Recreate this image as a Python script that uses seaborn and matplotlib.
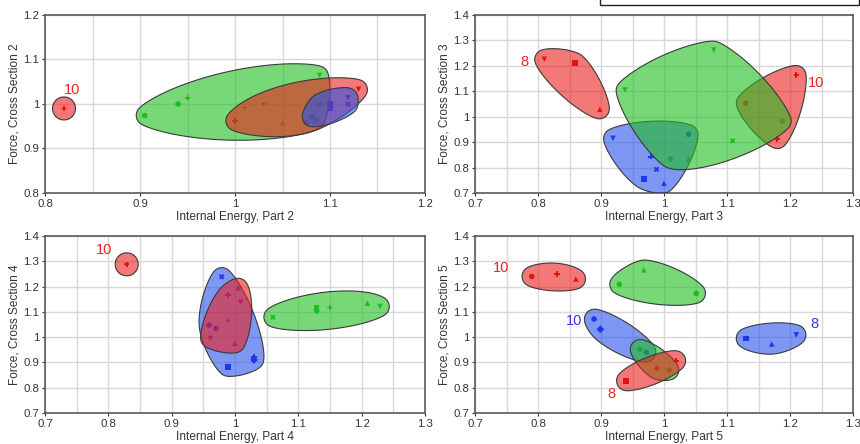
import numpy as np
import pandas as pd
import matplotlib
matplotlib.use("Agg")
import matplotlib.pyplot as plt
from matplotlib.patches import Polygon, Rectangle
import seaborn as sns

# ---------------- data ----------------
# Panel 1: Internal Energy, Part 2 vs Force, Cross Section 2
p1_red10_x = [0.82]
p1_red10_y = [0.99]
p1_red10_m = ["P"]
p1_green_x = [0.905, 0.94, 0.95, 1.01, 1.05, 1.085, 1.089]
p1_green_y = [0.974, 1.0, 1.013, 0.992, 0.958, 0.965, 1.064]
p1_green_m = ["o", "o", "P", "P", "^", "s", "v"]
p1_red_x = [1.0, 1.03, 1.075, 1.13]
p1_red_y = [0.962, 1.0, 0.958, 1.033]
p1_red_m = ["P", "*", "o", "v"]
p1_blue_x = [1.081, 1.089, 1.1, 1.1, 1.119, 1.119]
p1_blue_y = [0.971, 1.0, 1.0, 0.99, 1.014, 1.0]
p1_blue_m = ["o", "X", "s", "s", "v", "X"]

# Panel 2: Internal Energy, Part 3 vs Force, Cross Section 3
p2_blue_x = [0.919, 0.979, 0.988, 0.968, 1.0, 1.039]
p2_blue_y = [0.915, 0.843, 0.793, 0.754, 0.738, 0.931]
p2_blue_m = ["v", "P", "X", "s", "^", "o"]
p2_red8_x = [0.81, 0.859, 0.898]
p2_red8_y = [1.226, 1.212, 1.029]
p2_red8_m = ["v", "s", "^"]
p2_red10_x = [1.21, 1.13, 1.18]
p2_red10_y = [1.164, 1.053, 0.912]
p2_red10_m = ["P", "o", "P"]
p2_green_x = [0.938, 1.079, 1.188, 1.109, 1.01, 1.039]
p2_green_y = [1.105, 1.262, 0.983, 0.905, 0.834, 0.834]
p2_green_m = ["v", "v", "o", "X", "o", "^"]

# Panel 3: Internal Energy, Part 4 vs Force, Cross Section 4
p3_red10_x = [0.829]
p3_red10_y = [1.288]
p3_red10_m = ["P"]
p3_blue_x = [0.979, 0.959, 0.970, 0.989, 1.030, 1.030]
p3_blue_y = [1.239, 1.048, 1.035, 0.883, 0.923, 0.910]
p3_blue_m = ["X", "o", "o", "s", "P", "D"]
p3_red_x = [1.005, 0.989, 1.009, 0.989, 0.961, 1.0]
p3_red_y = [1.195, 1.167, 1.138, 1.065, 0.995, 0.976]
p3_red_m = ["^", "P", "v", "*", "v", "^"]
p3_green_x = [1.060, 1.129, 1.129, 1.150, 1.209, 1.229]
p3_green_y = [1.079, 1.117, 1.104, 1.117, 1.134, 1.121]
p3_green_m = ["X", "s", "o", "P", "^", "v"]

# Panel 4: Internal Energy, Part 5 vs Force, Cross Section 5
p4_red10_x = [0.79, 0.83, 0.86]
p4_red10_y = [1.24, 1.25, 1.23]
p4_red10_m = ["o", "P", "^"]
p4_greentop_x = [0.929, 0.968, 1.051]
p4_greentop_y = [1.209, 1.266, 1.173]
p4_greentop_m = ["o", "^", "o"]
p4_blue10_x = [0.889, 0.899, 0.972]
p4_blue10_y = [1.072, 1.031, 0.94]
p4_blue10_m = ["o", "D", "o"]
p4_blue8_x = [1.130, 1.171, 1.21]
p4_blue8_y = [0.995, 0.973, 1.009]
p4_blue8_m = ["s", "^", "v"]
p4_greenlow_x = [0.962, 0.99, 1.008]
p4_greenlow_y = [0.952, 0.872, 0.87]
p4_greenlow_m = ["o", "v", "o"]
p4_red8_x = [0.940, 0.988, 1.019]
p4_red8_y = [0.827, 0.881, 0.907]
p4_red8_m = ["s", "^", "P"]

x_labels = ["Internal Energy, Part 2", "Internal Energy, Part 3",
            "Internal Energy, Part 4", "Internal Energy, Part 5"]
y_labels = ["Force, Cross Section 2", "Force, Cross Section 3",
            "Force, Cross Section 4", "Force, Cross Section 5"]

# ---------------- style ----------------
sns.set_theme(style="white")
plt.rcParams["font.family"] = ["Liberation Sans", "DejaVu Sans"]

FILL = {"red": (0.92, 0.12, 0.12), "green": (0.12, 0.75, 0.12), "blue": (0.16, 0.32, 0.92)}
MARK = {"red": "#e00000", "green": "#1fb81f", "blue": "#1010e8"}
TEXT = {"red": "#ee2222", "blue": "#3434e4"}
ALPHA = 0.6
PAD = 10.0     # hull padding in pixels
SIGMA = 0.18   # angular smoothing of the hull's support function (radians)


def hull_outline(ax, xs, ys, r=PAD, sigma=SIGMA, n=720):
    """Smooth convex blob around the points, built in pixel space from the
    support function of the point set (padded by r and smoothed in angle)."""
    pts = ax.transData.transform(np.column_stack([xs, ys]))
    if len(pts) == 1:
        r = 11.5
    c = pts.mean(axis=0)
    q = pts - c
    th = np.linspace(0, 2 * np.pi, n, endpoint=False)
    u = np.column_stack([np.cos(th), np.sin(th)])
    h = (q @ u.T).max(axis=0) + r
    k = np.fft.fftfreq(n, d=1.0 / n)
    H = np.fft.fft(h) * np.exp(-0.5 * (k * sigma) ** 2)
    hs = np.fft.ifft(H).real
    dh = np.fft.ifft(1j * k * H).real
    x = hs * np.cos(th) - dh * np.sin(th) + c[0]
    y = hs * np.sin(th) + dh * np.cos(th) + c[1]
    return ax.transData.inverted().transform(np.column_stack([x, y]))


fig = plt.figure(figsize=(8.6, 4.44), dpi=100)
W, H = 860.0, 444.0
boxes = [(45, 15, 425, 193), (475, 15, 853, 193), (45, 236, 425, 413), (475, 236, 853, 413)]
axes = []
for (l, t, r_, b) in boxes:
    axes.append(fig.add_axes([l / W, 1 - b / H, (r_ - l) / W, (b - t) / H]))

limits = [((0.8, 1.2), (0.8, 1.2)), ((0.7, 1.3), (0.7, 1.4)),
          ((0.7, 1.3), (0.7, 1.4)), ((0.7, 1.3), (0.7, 1.4))]

panels = [
    [("green", p1_green_x, p1_green_y, p1_green_m),
     ("red", p1_red_x, p1_red_y, p1_red_m),
     ("blue", p1_blue_x, p1_blue_y, p1_blue_m),
     ("red", p1_red10_x, p1_red10_y, p1_red10_m)],
    [("blue", p2_blue_x, p2_blue_y, p2_blue_m),
     ("red", p2_red8_x, p2_red8_y, p2_red8_m),
     ("red", p2_red10_x, p2_red10_y, p2_red10_m),
     ("green", p2_green_x, p2_green_y, p2_green_m)],
    [("blue", p3_blue_x, p3_blue_y, p3_blue_m),
     ("red", p3_red_x, p3_red_y, p3_red_m),
     ("green", p3_green_x, p3_green_y, p3_green_m),
     ("red", p3_red10_x, p3_red10_y, p3_red10_m)],
    [("blue", p4_blue10_x, p4_blue10_y, p4_blue10_m),
     ("green", p4_greenlow_x, p4_greenlow_y, p4_greenlow_m),
     ("red", p4_red8_x, p4_red8_y, p4_red8_m),
     ("red", p4_red10_x, p4_red10_y, p4_red10_m),
     ("green", p4_greentop_x, p4_greentop_y, p4_greentop_m),
     ("blue", p4_blue8_x, p4_blue8_y, p4_blue8_m)],
]

labels = [
    [("10", "red", 0.828, 1.031)],
    [("8", "red", 0.778, 1.216), ("10", "red", 1.242, 1.134)],
    [("10", "red", 0.794, 1.343)],
    [("10", "red", 0.742, 1.273), ("10", "blue", 0.857, 1.062),
     ("8", "blue", 1.239, 1.052), ("8", "red", 0.917, 0.775)],
]

for k, ax in enumerate(axes):
    (x0, x1), (y0, y1) = limits[k]
    ax.set_xlim(x0, x1)
    ax.set_ylim(y0, y1)
    ax.set_xticks(np.round(np.arange(x0, x1 + 1e-9, 0.1), 2))
    ax.set_xticks(np.round(np.arange(x0 + 0.05, x1, 0.1), 2), minor=True)
    ax.set_yticks(np.round(np.arange(y0, y1 + 1e-9, 0.1), 2))
    ax.xaxis.set_major_formatter(matplotlib.ticker.FormatStrFormatter("%g"))
    ax.yaxis.set_major_formatter(matplotlib.ticker.FormatStrFormatter("%g"))
    ax.grid(True, which="major", color="#d8d8d8", lw=1.0)
    ax.grid(True, which="minor", axis="x", color="#d8d8d8", lw=1.0)
    ax.set_axisbelow(True)
    ax.tick_params(axis="both", which="major", labelsize=8.2, colors="#333333",
                   length=2.5, width=0.8, pad=1.5, direction="out",
                   bottom=True, left=True)
    ax.tick_params(axis="x", which="minor", length=0)
    for s in ax.spines.values():
        s.set_color("#5a5a5a")
        s.set_linewidth(1.2)

    # markers (drawn under the translucent hulls)
    rows = []
    for ci, (col, xs, ys, ms) in enumerate(panels[k]):
        for x, y, m in zip(xs, ys, ms):
            rows.append({"x": x, "y": y, "colour": col, "shape": m})
    df = pd.DataFrame(rows)
    shapes = sorted(df["shape"].unique())
    sns.scatterplot(data=df, x="x", y="y", hue="colour", style="shape",
                    palette=MARK, markers={s: s for s in shapes}, s=16,
                    linewidth=0, legend=False, ax=ax, zorder=2)
    ax.set_xlabel(x_labels[k], fontsize=8.6, color="#333333", labelpad=1.5)
    ax.set_ylabel(y_labels[k], fontsize=8.6, color="#333333", labelpad=2)

    # hulls
    for ci, (col, xs, ys, ms) in enumerate(panels[k]):
        outline = hull_outline(ax, xs, ys)
        fc = FILL[col] + (ALPHA,)
        ax.add_patch(Polygon(outline, closed=True, facecolor=fc,
                             edgecolor="#3a3a3a", lw=0.8, zorder=3 + ci))

    for (txt, col, tx, ty) in labels[k]:
        ax.text(tx, ty, txt, color=TEXT[col], fontsize=10.5, ha="center",
                va="center", zorder=20)

# partially visible legend frame at the top right
fig.add_artist(Rectangle((600 / W, 1 - 5 / H), 259 / W, 20 / H,
                         transform=fig.transFigure, facecolor="white",
                         edgecolor="#222222", lw=1.0, clip_on=False))

fig.savefig("out.png", dpi=100)
